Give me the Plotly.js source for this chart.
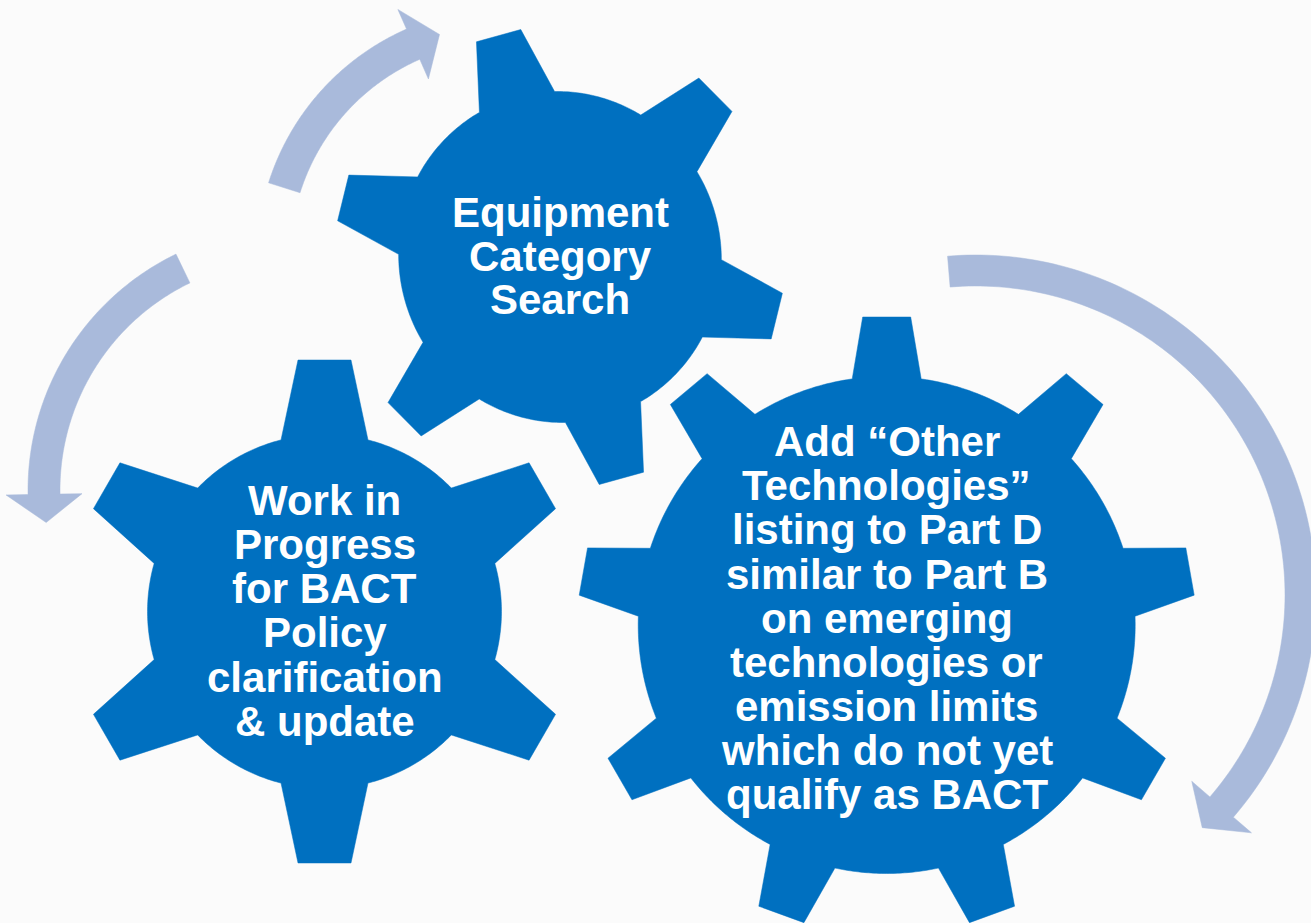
<!DOCTYPE html>
<html>
<head>
<meta charset="utf-8">
<script src="https://cdn.plot.ly/plotly-3.0.1.min.js"></script>
<style>
  html, body { margin: 0; padding: 0; background: #fbfbfb; }
  #chart { width: 1311px; height: 923px; }
</style>
</head>
<body>
<div id="chart"></div>
<script>
// ---- Gears (pixel-space diagram coordinates, y grows downward) ----
const gearNames    = ["Equipment Category Search", "Work in Progress", "Other Technologies"];
const gearCX       = [560, 324.5, 886.7];
const gearCY       = [257, 611.5, 625];
const gearTeeth    = [6, 6, 9];
const gearPhase    = [-105.5, -90, -90];     // angle of first tooth (deg)
const gearTipR     = [223, 251.5, 308];
const gearBodyR    = [161, 177, 248.5];
const gearTipHalf  = [23, 26.5, 24];
const gearBaseHalf = [39, 43.5, 34.5];
const gearStretch  = [1.03, 1, 1];

// ---- Gear labels ----
const gearLines = [
  ["Equipment", "Category", "Search"],
  ["Work in", "Progress", "for BACT", "Policy", "clarification", "& update"],
  ["Add \u201COther", "Technologies\u201D", "listing to Part D", "similar to Part B",
   "on emerging", "technologies or", "emission limits", "which do not yet", "qualify as BACT"]
];
const gearFirstBaseline = [226.7, 514.3, 455.7];
const gearLineStep      = [43.4, 44.2, 44.1];

// ---- Curved arrows ----
const arrowCX       = [507, 290, 976];
const arrowCY       = [258, 490, 595];
const arrowRIn      = [217, 230, 309];
const arrowROut     = [250, 262, 340];
const arrowStartDeg = [197.5, 244.2, 265.2];
const arrowHeadDeg  = [246.3, 179, 400.8];
const arrowTipDeg   = [253.2, 172.4, 405.8];
const arrowBarb     = [21.5, 22, 24];

const GEAR_COLOR = "#0070C0";
const ARROW_COLOR = "#A9BADB";
const FONT_SIZE = 42;

const rad = d => d * Math.PI / 180;

function gearPath(i) {
  const n = gearTeeth[i], cx = gearCX[i], cy = gearCY[i];
  const rt = gearTipR[i], rb = gearBodyR[i], wt = gearTipHalf[i], wb = gearBaseHalf[i];
  const halfBase = Math.asin(wb / rb) * 180 / Math.PI;
  const xs = [], ys = [];
  const pts = [];
  for (let k = 0; k < n; k++) {
    const a = gearPhase[i] + k * 360 / n;
    const ux = Math.cos(rad(a)), uy = Math.sin(rad(a));
    const vx = -uy, vy = ux;
    const along = Math.sqrt(rb * rb - wb * wb);
    pts.push([along * ux - wb * vx, along * uy - wb * vy]);
    pts.push([rt * ux - wt * vx, rt * uy - wt * vy]);
    pts.push([rt * ux + wt * vx, rt * uy + wt * vy]);
    pts.push([along * ux + wb * vx, along * uy + wb * vy]);
    const a0 = a + halfBase, a1 = a + 360 / n - halfBase;
    const steps = 40;
    for (let s = 1; s < steps; s++) {
      const t = a0 + (a1 - a0) * s / steps;
      pts.push([rb * Math.cos(rad(t)), rb * Math.sin(rad(t))]);
    }
  }
  const dx = Math.cos(rad(gearPhase[i])), dy = Math.sin(rad(gearPhase[i]));
  const st = gearStretch[i];
  pts.forEach(p => {
    const c = p[0] * dx + p[1] * dy;
    xs.push(cx + p[0] + (st - 1) * c * dx);
    ys.push(cy + p[1] + (st - 1) * c * dy);
  });
  xs.push(xs[0]); ys.push(ys[0]);
  return {xs, ys};
}

function arrowPath(i) {
  const cx = arrowCX[i], cy = arrowCY[i];
  const ri = arrowRIn[i], ro = arrowROut[i];
  const a0 = arrowStartDeg[i], a1 = arrowHeadDeg[i];
  const xs = [], ys = [];
  const steps = 120;
  for (let s = 0; s <= steps; s++) {
    const t = a0 + (a1 - a0) * s / steps;
    xs.push(cx + ro * Math.cos(rad(t))); ys.push(cy + ro * Math.sin(rad(t)));
  }
  const rbo = ro + arrowBarb[i], rbi = ri - arrowBarb[i], rm = (ri + ro) / 2;
  xs.push(cx + rbo * Math.cos(rad(a1))); ys.push(cy + rbo * Math.sin(rad(a1)));
  xs.push(cx + rm * Math.cos(rad(arrowTipDeg[i]))); ys.push(cy + rm * Math.sin(rad(arrowTipDeg[i])));
  xs.push(cx + rbi * Math.cos(rad(a1))); ys.push(cy + rbi * Math.sin(rad(a1)));
  for (let s = 0; s <= steps; s++) {
    const t = a1 + (a0 - a1) * s / steps;
    xs.push(cx + ri * Math.cos(rad(t))); ys.push(cy + ri * Math.sin(rad(t)));
  }
  xs.push(xs[0]); ys.push(ys[0]);
  return {xs, ys};
}

const traces = [];
for (let i = 0; i < arrowCX.length; i++) {
  const p = arrowPath(i);
  traces.push({type: "scatter", mode: "lines", x: p.xs, y: p.ys, fill: "toself",
    fillcolor: ARROW_COLOR, line: {width: 0.5, color: ARROW_COLOR, simplify: false}, hoverinfo: "skip"});
}
for (let i = 0; i < gearCX.length; i++) {
  const p = gearPath(i);
  traces.push({type: "scatter", mode: "lines", x: p.xs, y: p.ys, fill: "toself",
    fillcolor: GEAR_COLOR, line: {width: 0.5, color: GEAR_COLOR, simplify: false}, name: gearNames[i], hoverinfo: "skip"});
}

const esc = s => s.replace(/&/g, "&amp;").replace(/</g, "&lt;");
const annotations = [];
for (let i = 0; i < gearCX.length; i++) {
  gearLines[i].forEach((line, j) => {
    annotations.push({
      x: gearCX[i], y: gearFirstBaseline[i] + j * gearLineStep[i] - 14,
      xref: "x", yref: "y", text: esc(line), showarrow: false,
      xanchor: "center", yanchor: "middle",
      font: {family: "Liberation Sans, Arial, sans-serif", size: FONT_SIZE, color: "#ffffff", weight: "bold"}
    });
  });
}

const layout = {
  width: 1311, height: 923,
  margin: {l: 0, r: 0, t: 0, b: 0, pad: 0},
  paper_bgcolor: "#fbfbfb", plot_bgcolor: "#fbfbfb",
  showlegend: false,
  xaxis: {range: [0, 1311], visible: false, fixedrange: true},
  yaxis: {range: [923, 0], visible: false, fixedrange: true},
  annotations: annotations
};

Plotly.newPlot("chart", traces, layout, {displayModeBar: false, staticPlot: true});
</script>
</body>
</html>
